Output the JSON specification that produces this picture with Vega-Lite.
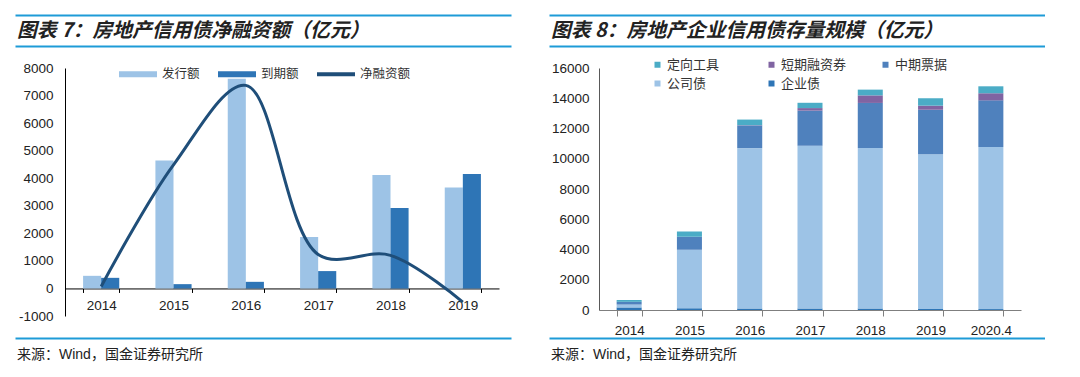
{
  "$schema": "https://vega.github.io/schema/vega-lite/v6.json",
  "background": "white",
  "padding": {"left": 15, "top": 15, "right": 0, "bottom": 0},
  "columns": 2,
  "bounds": "flush",
  "align": "each",
  "spacing": {"row": 22, "column": 38},
  "resolve": {"scale": {"color": "independent"}, "legend": {"color": "independent"}},
  "config": {
    "view": {"stroke": null},
    "axis": {"labelFont": "Liberation Sans", "labelFontSize": 13.5, "labelColor": "#222", "titleFont": "Liberation Sans", "labelOverlap": false},
    "legend": {"labelFont": "Noto Sans CJK SC", "labelColor": "#333"}
  },
  "concat": [
    {
      "width": 496, "height": 31,
      "data": {"values": [{"t": "图表 7：房地产信用债净融资额（亿元）"}]},
      "mark": {"type": "text", "align": "left", "baseline": "middle", "dx": 2, "font": "Noto Sans CJK SC", "fontSize": 19.8, "fontWeight": "bold", "fontStyle": "italic", "color": "#222"},
      "encoding": {
        "text": {"field": "t"},
        "x": {"datum": 0, "type": "quantitative", "scale": {"domain": [0, 1]}, "axis": null},
        "y": {"datum": 0.5, "type": "quantitative", "scale": {"domain": [0, 1]}, "axis": {"values": [0, 1], "grid": true, "gridColor": "#1E9BD7", "gridWidth": 2, "gridOpacity": 1, "labels": false, "ticks": false, "domain": false, "title": null}}
      }
    },
    {
      "width": 496, "height": 31,
      "data": {"values": [{"t": "图表 8：房地产企业信用债存量规模（亿元）"}]},
      "mark": {"type": "text", "align": "left", "baseline": "middle", "dx": 2, "font": "Noto Sans CJK SC", "fontSize": 19.8, "fontWeight": "bold", "fontStyle": "italic", "color": "#222"},
      "encoding": {
        "text": {"field": "t"},
        "x": {"datum": 0, "type": "quantitative", "scale": {"domain": [0, 1]}, "axis": null},
        "y": {"datum": 0.5, "type": "quantitative", "scale": {"domain": [0, 1]}, "axis": {"values": [0, 1], "grid": true, "gridColor": "#1E9BD7", "gridWidth": 2, "gridOpacity": 1, "labels": false, "ticks": false, "domain": false, "title": null}}
      }
    },
    {
      "width": 496, "height": 248,
      "encoding": {
        "x": {"field": "year", "type": "ordinal", "scale": {"range": [50, 484], "paddingInner": 0.5, "paddingOuter": 0.25},
              "axis": {"orient": "bottom", "offset": -27.56, "title": null, "labelAngle": 0, "tickBand": "extent", "domainColor": "#000", "tickColor": "#000", "tickSize": 4, "labelPadding": 6}},
        "y": {"field": "value", "type": "quantitative", "scale": {"domain": [-1000, 8000], "nice": false},
              "axis": {"offset": -50, "values": [-1000, 0, 1000, 2000, 3000, 4000, 5000, 6000, 7000, 8000], "labelExpr": "'' + datum.value", "labelOverlap": false, "labelSeparation": 0, "labelBound": false, "title": null, "grid": false, "ticks": false, "tickSize": 0, "labelPadding": 12, "domainColor": "#000"}},
        "color": {"field": "series", "type": "nominal",
                  "scale": {"domain": ["发行额", "到期额", "净融资额"], "range": ["#9DC3E6", "#2E75B6", "#1F4E79"]},
                  "legend": {"orient": "none", "direction": "horizontal", "legendX": 104, "legendY": -13, "title": null, "padding": 0,
                             "symbolSize": 1444, "symbolStrokeWidth": 0, "labelOffset": 5, "columnPadding": 18, "labelFontSize": 12.5,
                             "encode": {"symbols": {"update": {
                               "shape": {"signal": "datum.value === '净融资额' ? 'M-1,-0.1H1V0.1H-1Z' : 'M-1,-0.16H1V0.16H-1Z'"},
                               "fill": {"signal": "datum.value === '发行额' ? '#9DC3E6' : datum.value === '到期额' ? '#2E75B6' : '#1F4E79'"},
                               "stroke": {"value": "transparent"},
                               "opacity": {"value": 1}
                             }}}}}
      },
      "layer": [
        {
          "data": {"values": [
            {"year": "2014", "series": "发行额", "value": 458},
            {"year": "2014", "series": "到期额", "value": 385},
            {"year": "2015", "series": "发行额", "value": 4640},
            {"year": "2015", "series": "到期额", "value": 156},
            {"year": "2016", "series": "发行额", "value": 7610},
            {"year": "2016", "series": "到期额", "value": 240},
            {"year": "2017", "series": "发行额", "value": 1865},
            {"year": "2017", "series": "到期额", "value": 630},
            {"year": "2018", "series": "发行额", "value": 4120},
            {"year": "2018", "series": "到期额", "value": 2920},
            {"year": "2019", "series": "发行额", "value": 3660},
            {"year": "2019", "series": "到期额", "value": 4155}
          ]},
          "mark": {"type": "bar"},
          "encoding": {
            "xOffset": {"field": "series", "type": "nominal", "scale": {"domain": ["发行额", "到期额"], "paddingInner": 0, "paddingOuter": 0}}
          }
        },
        {
          "data": {"values": [
            {"year": "2014", "series": "净融资额", "value": 73},
            {"year": "2015", "series": "净融资额", "value": 4484},
            {"year": "2016", "series": "净融资额", "value": 7370},
            {"year": "2017", "series": "净融资额", "value": 1235},
            {"year": "2018", "series": "净融资额", "value": 1200},
            {"year": "2019", "series": "净融资额", "value": -495}
          ]},
          "mark": {"type": "line", "interpolate": "catmull-rom", "strokeWidth": 3},
          "encoding": {}
        }
      ]
    },
    {
      "width": 496, "height": 242,
      "data": {"values": [
        {"year": "2014", "series": "企业债", "value": 170},
        {"year": "2014", "series": "公司债", "value": 190},
        {"year": "2014", "series": "中期票据", "value": 180},
        {"year": "2014", "series": "短期融资券", "value": 0},
        {"year": "2014", "series": "定向工具", "value": 120},
        {"year": "2015", "series": "企业债", "value": 110},
        {"year": "2015", "series": "公司债", "value": 3870},
        {"year": "2015", "series": "中期票据", "value": 870},
        {"year": "2015", "series": "短期融资券", "value": 0},
        {"year": "2015", "series": "定向工具", "value": 340},
        {"year": "2016", "series": "企业债", "value": 100},
        {"year": "2016", "series": "公司债", "value": 10600},
        {"year": "2016", "series": "中期票据", "value": 1500},
        {"year": "2016", "series": "短期融资券", "value": 20},
        {"year": "2016", "series": "定向工具", "value": 370},
        {"year": "2017", "series": "企业债", "value": 100},
        {"year": "2017", "series": "公司债", "value": 10760},
        {"year": "2017", "series": "中期票据", "value": 2320},
        {"year": "2017", "series": "短期融资券", "value": 170},
        {"year": "2017", "series": "定向工具", "value": 350},
        {"year": "2018", "series": "企业债", "value": 100},
        {"year": "2018", "series": "公司债", "value": 10610},
        {"year": "2018", "series": "中期票据", "value": 2980},
        {"year": "2018", "series": "短期融资券", "value": 500},
        {"year": "2018", "series": "定向工具", "value": 380},
        {"year": "2019", "series": "企业债", "value": 70},
        {"year": "2019", "series": "公司债", "value": 10220},
        {"year": "2019", "series": "中期票据", "value": 2950},
        {"year": "2019", "series": "短期融资券", "value": 270},
        {"year": "2019", "series": "定向工具", "value": 490},
        {"year": "2020.4", "series": "企业债", "value": 60},
        {"year": "2020.4", "series": "公司债", "value": 10720},
        {"year": "2020.4", "series": "中期票据", "value": 3080},
        {"year": "2020.4", "series": "短期融资券", "value": 470},
        {"year": "2020.4", "series": "定向工具", "value": 460}
      ]},
      "transform": [{"calculate": "indexof(['企业债','公司债','中期票据','短期融资券','定向工具'], datum.series)", "as": "ord"}],
      "mark": {"type": "bar"},
      "encoding": {
        "x": {"field": "year", "type": "ordinal", "scale": {"range": [50, 472], "paddingInner": 0.585, "paddingOuter": 0.2925},
              "axis": {"title": null, "labelAngle": 0, "tickBand": "extent", "domainColor": "#7f7f7f", "tickColor": "#7f7f7f", "tickSize": 6, "labelPadding": 7}},
        "y": {"field": "value", "type": "quantitative", "stack": "zero", "scale": {"domain": [0, 16000], "nice": false},
              "axis": {"offset": -50, "values": [0, 2000, 4000, 6000, 8000, 10000, 12000, 14000, 16000], "labelExpr": "'' + datum.value", "labelOverlap": false, "title": null, "grid": false, "ticks": false, "tickSize": 0, "labelPadding": 10, "domainColor": "#595959"}},
        "color": {"field": "series", "type": "nominal",
                  "scale": {"domain": ["定向工具", "短期融资券", "中期票据", "公司债", "企业债"], "range": ["#4BACC6", "#8064A2", "#4F81BD", "#9DC3E6", "#2E75B6"]},
                  "legend": {"orient": "none", "direction": "horizontal", "columns": 3, "gridAlign": "all", "legendX": 102, "legendY": -10, "title": null, "padding": 0,
                             "symbolType": "square", "symbolSize": 36, "symbolStrokeWidth": 0, "labelOffset": 3, "columnPadding": 32, "rowPadding": 5, "labelFontSize": 13}},
        "order": {"field": "ord", "type": "quantitative"}
      }
    },
    {
      "width": 496, "height": 30,
      "data": {"values": [{"t": "来源：Wind，国金证券研究所"}]},
      "mark": {"type": "text", "align": "left", "baseline": "middle", "dx": 2, "dy": 2, "font": "Liberation Sans, Noto Sans CJK SC", "fontSize": 14, "color": "#222"},
      "encoding": {
        "text": {"field": "t"},
        "x": {"datum": 0, "type": "quantitative", "scale": {"domain": [0, 1]}, "axis": null},
        "y": {"datum": 0.5, "type": "quantitative", "scale": {"domain": [0, 1]}, "axis": {"values": [1], "grid": true, "gridColor": "#1E9BD7", "gridWidth": 2, "gridOpacity": 1, "labels": false, "ticks": false, "domain": false, "title": null}}
      }
    },
    {
      "width": 496, "height": 30,
      "data": {"values": [{"t": "来源：Wind，国金证券研究所"}]},
      "mark": {"type": "text", "align": "left", "baseline": "middle", "dx": 2, "dy": 2, "font": "Liberation Sans, Noto Sans CJK SC", "fontSize": 14, "color": "#222"},
      "encoding": {
        "text": {"field": "t"},
        "x": {"datum": 0, "type": "quantitative", "scale": {"domain": [0, 1]}, "axis": null},
        "y": {"datum": 0.5, "type": "quantitative", "scale": {"domain": [0, 1]}, "axis": {"values": [1], "grid": true, "gridColor": "#1E9BD7", "gridWidth": 2, "gridOpacity": 1, "labels": false, "ticks": false, "domain": false, "title": null}}
      }
    }
  ]
}
